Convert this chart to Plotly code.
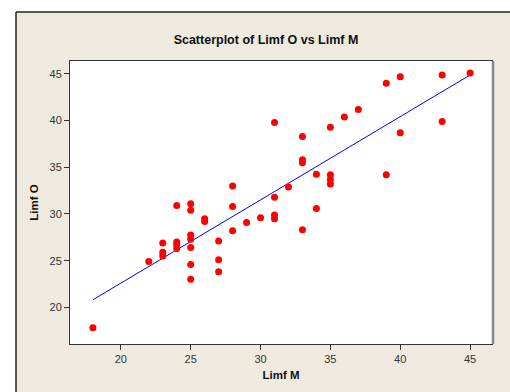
import numpy as np
import plotly.graph_objects as go

limf_m = [18, 22, 23, 23, 23, 24, 24, 24, 24,
          25, 25, 25, 25, 25, 25, 25, 26, 26,
          27, 27, 27, 28, 28, 28, 29, 30,
          31, 31, 31, 31, 32, 33, 33, 33, 33,
          34, 34, 35, 35, 35, 35, 36, 37,
          39, 39, 40, 40, 43, 43, 45]
limf_o = [17.8, 24.9, 26.9, 25.9, 25.5, 30.9, 27.0, 26.7, 26.3,
          31.1, 30.4, 27.75, 27.3, 26.4, 24.6, 23.0, 29.5, 29.2,
          27.1, 25.1, 23.8, 33.0, 30.8, 28.2, 29.1, 29.6,
          39.8, 31.8, 29.9, 29.5, 32.9, 38.3, 35.8, 35.5, 28.3,
          34.25, 30.6, 39.3, 34.2, 33.7, 33.2, 40.4, 41.2,
          44.0, 34.2, 44.7, 38.7, 44.9, 39.9, 45.1]
x_ticks = [20, 25, 30, 35, 40, 45]
y_ticks = [20, 25, 30, 35, 40, 45]

slope, intercept = np.polyfit(limf_m, limf_o, 1)
fit_x = [min(limf_m), max(limf_m)]
fit_y = [intercept + slope * v for v in fit_x]

BEIGE = "#EEEAE0"
W, H = 510, 392
L, R, T, B = 70, 18, 61, 48
pw, ph = W - L - R, H - T - B


def px(xw):
    return (xw - L) / pw


def py(yw):
    return 1 - (yw - T) / ph


fig = go.Figure()
fig.add_trace(go.Scatter(x=fit_x, y=fit_y, mode="lines",
                         line=dict(color="#0000FF", width=1), hoverinfo="skip"))
fig.add_trace(go.Scatter(x=limf_m, y=limf_o, mode="markers",
                         marker=dict(color="#FF0000", size=7, line=dict(width=0))))

# white strips outside the beige frame
fig.add_shape(type="rect", xref="paper", yref="paper",
              x0=px(0), x1=px(W), y0=py(12), y1=py(0),
              fillcolor="white", line=dict(width=0))
fig.add_shape(type="rect", xref="paper", yref="paper",
              x0=px(0), x1=px(16), y0=py(H), y1=py(0),
              fillcolor="white", line=dict(width=0))
fig.add_shape(type="line", xref="paper", yref="paper",
              x0=px(16), x1=px(W), y0=py(12), y1=py(12),
              line=dict(color="#222222", width=1.5))
fig.add_shape(type="line", xref="paper", yref="paper",
              x0=px(16), x1=px(16), y0=py(H), y1=py(12),
              line=dict(color="#222222", width=1.5))
fig.add_shape(type="line", xref="paper", yref="paper",
              x0=px(493), x1=px(493), y0=0, y1=1,
              line=dict(color="#888888", width=2.5))

fig.update_layout(
    width=W, height=H,
    margin=dict(l=L, r=R, t=T, b=B),
    paper_bgcolor=BEIGE, plot_bgcolor="white",
    showlegend=False, hovermode=False,
    font=dict(family="Liberation Sans, Arial, sans-serif", color="#222222", size=11),
    title=dict(text="<b>Scatterplot of Limf O vs Limf M</b>",
               x=266 / W, xanchor="center", y=1 - 40 / H, yanchor="middle",
               font=dict(size=12.5, color="#111111")),
)
fig.update_xaxes(range=[16.36, 46.57], tickvals=x_ticks, ticks="outside", ticklen=5,
                 tickcolor="#333333", showgrid=False, zeroline=False, automargin=False,
                 showline=True, linecolor="#333333", linewidth=1, mirror=True,
                 tickfont=dict(size=11, color="#333333"),
                 title=dict(text="<b>Limf M</b>", font=dict(size=11.5, color="#111111"), standoff=6))
fig.update_yaxes(range=[16.07, 46.39], tickvals=y_ticks, ticks="outside", ticklen=5,
                 tickcolor="#333333", showgrid=False, zeroline=False, automargin=False,
                 showline=True, linecolor="#333333", linewidth=1, mirror=True,
                 tickfont=dict(size=11, color="#333333"),
                 title=dict(text="<b>Limf O</b>", font=dict(size=11.5, color="#111111"), standoff=8))
fig.write_html("out.html",
               config={"displayModeBar": False, "staticPlot": True},
               post_script="document.body.style.margin='0';"
                           "document.documentElement.style.overflow='hidden';"
                           "document.body.style.overflow='hidden';")
